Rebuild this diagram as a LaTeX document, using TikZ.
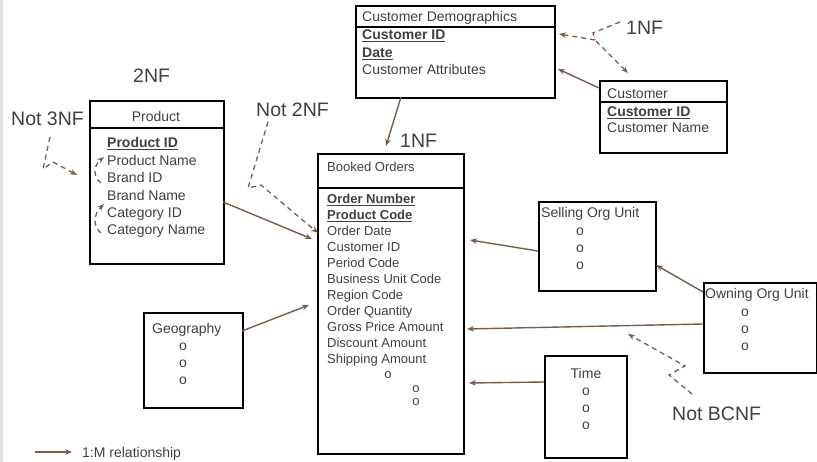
\documentclass[tikz,border=0pt]{standalone}
\usepackage{fontspec}
\setmainfont{Liberation Sans}
\usetikzlibrary{arrows.meta}
\definecolor{brn}{RGB}{122,92,76}
\definecolor{txt}{RGB}{64,64,64}
\definecolor{strip}{RGB}{227,227,227}
\begin{document}
\begin{tikzpicture}[x=1bp,y=-1bp,
  box/.style={draw=black, line width=1.6bp, fill=white, inner sep=0pt, anchor=north west},
  sep/.style={draw=black, line width=1.6bp},
  tf/.style={font=\fontsize{14bp}{16bp}\selectfont, text=txt, inner sep=0pt, anchor=base west},
  ts/.style={font=\fontsize{13bp}{15bp}\selectfont, text=txt, inner sep=0pt, anchor=base west},
  lbl/.style={font=\fontsize{19.5bp}{22bp}\selectfont, text=txt, inner sep=0pt, anchor=base west},
  rel/.style={draw=brn, line width=1.4bp, -{Stealth[length=7bp,width=5.5bp]}},
  dsh/.style={draw=brn, line width=1.3bp, dash pattern=on 5bp off 4bp, -{Stealth[length=7bp,width=5.5bp]}},
  dshn/.style={draw=brn, line width=1.3bp, dash pattern=on 5bp off 4bp}]
\useasboundingbox (0,0) rectangle (817,462);
\fill[strip] (0,0) rectangle (3,462);

% ---------- boxes ----------
\node[box, minimum width=134bp, minimum height=163bp] (prod) at (89,100) {};
\draw[sep] (89,128) -- (223,128);
\node[box, minimum width=146bp, minimum height=300bp] (bo) at (317,153) {};
\draw[sep] (317,188) -- (463,188);
\node[box, minimum width=199bp, minimum height=92bp] (cd) at (355,5) {};
\draw[sep] (355,27) -- (554,27);
\node[box, minimum width=127bp, minimum height=72bp] (cust) at (599,80) {};
\draw[sep] (599,102) -- (726,102);
\node[box, minimum width=117bp, minimum height=89bp] (sell) at (538,201) {};
\node[box, minimum width=113bp, minimum height=90bp] (own) at (703,282) {};
\node[box, minimum width=82bp, minimum height=102bp] (time) at (544,355) {};
\node[box, minimum width=99bp, minimum height=95bp] (geo) at (143,312) {};

% ---------- Product text ----------
\node[tf, anchor=base] (pt) at (156,122) {Product};
\node[tf] (p1) at (107,148) {\underline{\textbf{Product ID}}};
\node[tf] (p2) at (107,165.4) {Product Name};
\node[tf] (p3) at (107,182.8) {Brand ID};
\node[tf] (p4) at (107,200.2) {Brand Name};
\node[tf] (p5) at (107,217.6) {Category ID};
\node[tf] (p6) at (107,235) {Category Name};

% ---------- Booked Orders text ----------
\node[ts] (bt) at (327,171.7) {Booked Orders};
\node[ts] (b1) at (327,203.7) {\underline{\textbf{Order Number}}};
\node[ts] (b2) at (327,219.7) {\underline{\textbf{Product Code}}};
\node[ts] (b3) at (327,235.7) {Order Date};
\node[ts] (b4) at (327,251.7) {Customer ID};
\node[ts] (b5) at (327,267.7) {Period Code};
\node[ts] (b6) at (327,283.7) {Business Unit Code};
\node[ts] (b7) at (327,299.7) {Region Code};
\node[ts] (b8) at (327,315.7) {Order Quantity};
\node[ts] (b9) at (327,331.7) {Gross Price Amount};
\node[ts] (b10) at (327,347.7) {Discount Amount};
\node[ts] (b11) at (327,363.7) {Shipping Amount};
\node[ts, anchor=base] (bo1) at (388,378.5) {o};
\node[ts, anchor=base] (bo2) at (416,392.5) {o};
\node[ts, anchor=base] (bo3) at (416,405.5) {o};

% ---------- Customer Demographics text ----------
\node[tf] (ct) at (362,22) {Customer Demographics};
\node[tf] (c1) at (362,40) {\underline{\textbf{Customer ID}}};
\node[tf] (c2) at (362,58) {\underline{\textbf{Date}}};
\node[tf] (c3) at (362,75) {Customer Attributes};

% ---------- Customer text ----------
\node[tf] (kt) at (607,99) {Customer};
\node[tf] (k1) at (607,117) {\underline{\textbf{Customer ID}}};
\node[tf] (k2) at (607,133) {Customer Name};

% ---------- small boxes text ----------
\node[tf] (st) at (541,218) {Selling Org Unit};
\node[tf, anchor=base] (s1) at (580,235.5) {o};
\node[tf, anchor=base] (s2) at (580,252.5) {o};
\node[tf, anchor=base] (s3) at (580,269.5) {o};

\node[tf] (ot) at (705,299) {Owning Org Unit};
\node[tf, anchor=base] (o1) at (745,316.6) {o};
\node[tf, anchor=base] (o2) at (745,333.6) {o};
\node[tf, anchor=base] (o3) at (745,350.6) {o};

\node[tf, anchor=base] (tt) at (586,379) {Time};
\node[tf, anchor=base] (t1) at (586,395.6) {o};
\node[tf, anchor=base] (t2) at (586,412.6) {o};
\node[tf, anchor=base] (t3) at (586,429.6) {o};

\node[tf] (gt) at (152,334) {Geography};
\node[tf, anchor=base] (g1) at (183,350.6) {o};
\node[tf, anchor=base] (g2) at (183,367.6) {o};
\node[tf, anchor=base] (g3) at (183,384.6) {o};

% ---------- labels ----------
\node[lbl] (l2nf) at (133,83) {2NF};
\node[lbl] (ln3) at (11,126) {Not 3NF};
\node[lbl] (ln2) at (256,117) {Not 2NF};
\node[lbl] (l1a) at (400,148) {1NF};
\node[lbl] (l1b) at (626,35) {1NF};
\node[lbl] (lbc) at (672,420) {Not BCNF};
\node[tf] (leg) at (82,457) {1:M relationship};

% ---------- connector end points ----------
\coordinate (pS) at (223,202);  \coordinate (pE) at (312,239);
\coordinate (gS) at (242,331);  \coordinate (gE) at (309,305);
\coordinate (cdS) at (401,97);  \coordinate (cdE) at (386,146);
\coordinate (cuS) at (599,88);  \coordinate (cuE) at (558,69);
\coordinate (seS) at (538,251); \coordinate (seE) at (470,240);
\coordinate (owS) at (703,324); \coordinate (owE) at (467,329);
\coordinate (osS) at (703,292); \coordinate (osE) at (656,265);
\coordinate (tiS) at (544,382); \coordinate (tiE) at (469,383);
\coordinate (legS) at (35,452); \coordinate (legE) at (72,452);

% ---------- solid relationships ----------
\draw[rel] (pS) -- (pE);
\draw[rel] (gS) -- (gE);
\draw[rel] (cdS) -- (cdE);
\draw[rel] (cuS) -- (cuE);
\draw[rel] (seS) -- (seE);
\draw[rel] (owS) -- (owE);
\draw[rel] (osS) -- (osE);
\draw[rel] (tiS) -- (tiE);
\draw[rel] (legS) -- (legE);

% ---------- dashed annotations ----------
\draw[dsh] (50,137) -- (43,169) -- (53,162) -- (77,175);
\draw[dsh] (268,122) -- (248,188) -- (261,185) -- (318,233);
\draw[dsh] (101,183) .. controls (93,177) and (93,166) .. (104,157);
\draw[dsh] (101,233) .. controls (93,227) and (93,215) .. (104,204);
\draw[dshn] (620,22) -- (593,33) -- (595,40);
\draw[dsh] (595,40) -- (559,34);
\draw[dsh] (596,41) -- (628,73);
\draw[dsh] (692,394) -- (669,375) -- (685,366) -- (628,334);
\end{tikzpicture}
\end{document}
